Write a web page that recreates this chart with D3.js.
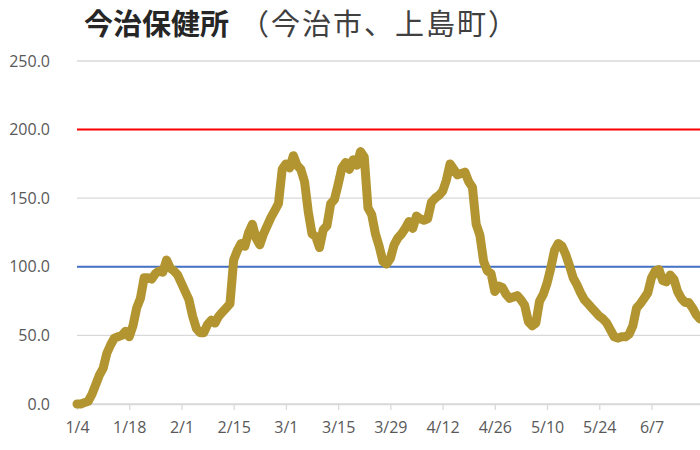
<!DOCTYPE html>
<html>
<head>
<meta charset="utf-8">
<script src="https://cdn.jsdelivr.net/npm/d3@7"></script>
<style>
  body { margin: 0; background: #fff; }
  svg { display: block; }
</style>
</head>
<body>
<svg id="viz"></svg>
<script>
// daily values from 1/4 (2021) onward
const startDate = new Date(2021, 0, 4);
const values = [
  0, 0, 1, 2, 7, 14, 21, 26, 37, 43,
  48, 49, 50, 53, 49, 57, 70, 77, 92, 92,
  91, 95, 97, 96, 105, 99, 97, 94, 88, 82,
  76, 64, 55, 52, 52, 58, 61, 59, 64, 67,
  70, 73, 105, 112, 117, 115, 125, 131, 121, 116,
  124, 130, 136, 141, 146, 171, 175, 172, 181, 174,
  171, 162, 140, 124, 122, 114, 127, 130, 146, 149,
  160, 172, 176, 171, 178, 174, 184, 180, 143, 138,
  124, 115, 104, 102, 106, 116, 121, 124, 128, 133,
  128, 137, 135, 134, 135, 147, 150, 152, 155, 163,
  175, 171, 167, 168, 169, 162, 158, 131, 123, 104,
  97, 95, 82, 86, 85, 80, 77, 78, 79, 76,
  72, 60, 57, 59, 75, 80, 88, 99, 112, 117,
  115, 109, 101, 92, 87, 81, 76, 73, 70, 67,
  64, 62, 59, 54, 49, 48, 49, 49, 51, 57,
  70, 73, 77, 81, 92, 97, 98, 90, 89, 94,
  91, 82, 77, 74, 74, 70, 65, 62
];
const yTicks = [0, 50, 100, 150, 200, 250];
const xTickLabels = ["1/4", "1/18", "2/1", "2/15", "3/1", "3/15", "3/29", "4/12", "4/26", "5/10", "5/24", "6/7"];
const refLines = [
  { value: 200, color: "#ff0000" },
  { value: 100, color: "#4472c4" }
];
const titleBold = "今治保健所";
const titleRest = "（今治市、上島町）";

const W = 700, H = 450;
const margin = { top: 61, right: 0, bottom: 46, left: 77 };

const svg = d3.select("#viz").attr("width", W).attr("height", H);

const dates = values.map((v, i) => d3.timeDay.offset(startDate, i));
const data = values.map((v, i) => ({ date: dates[i], value: v }));

const x = d3.scaleTime()
  .domain([startDate, d3.timeDay.offset(startDate, 167.7)])
  .range([margin.left, W - margin.right]);
const y = d3.scaleLinear().domain([0, 250]).range([H - margin.bottom, margin.top]);

const tickDates = xTickLabels.map((s, i) => d3.timeDay.offset(startDate, i * 14));

// horizontal gridlines
svg.append("g")
  .selectAll("line")
  .data(yTicks)
  .join("line")
  .attr("x1", margin.left)
  .attr("x2", W)
  .attr("y1", d => y(d))
  .attr("y2", d => y(d))
  .attr("stroke", "#d9d9d9")
  .attr("stroke-width", 1.3);

// y axis labels
const yAxis = svg.append("g")
  .attr("transform", `translate(${margin.left - 24},0)`)
  .call(d3.axisLeft(y).tickValues(yTicks).tickFormat(d3.format(".1f")).tickSize(0));
yAxis.select(".domain").remove();
yAxis.selectAll("text")
  .attr("font-family", "'Open Sans', sans-serif")
  .attr("font-size", 16)
  .attr("fill", "#595959");

// x axis
const xAxis = svg.append("g")
  .attr("transform", `translate(0,${y(0)})`)
  .call(d3.axisBottom(x).tickValues(tickDates).tickFormat((d, i) => xTickLabels[i]).tickSize(6).tickSizeOuter(0));
xAxis.select(".domain").attr("stroke", "#d9d9d9").attr("stroke-width", 1.3);
xAxis.selectAll(".tick line").attr("stroke", "#d9d9d9").attr("stroke-width", 1.3);
xAxis.selectAll("text")
  .attr("y", 18)
  .attr("font-family", "'Open Sans', sans-serif")
  .attr("font-size", 16)
  .attr("fill", "#595959");

// reference lines
svg.append("g")
  .selectAll("line")
  .data(refLines)
  .join("line")
  .attr("x1", margin.left)
  .attr("x2", W)
  .attr("y1", d => y(d.value))
  .attr("y2", d => y(d.value))
  .attr("stroke", d => d.color)
  .attr("stroke-width", 2);

// main series
const line = d3.line()
  .x(d => x(d.date))
  .y(d => y(d.value));

svg.append("path")
  .datum(data)
  .attr("d", line)
  .attr("fill", "none")
  .attr("stroke", "#b29531")
  .attr("stroke-width", 9)
  .attr("stroke-linejoin", "round")
  .attr("stroke-linecap", "round");

// title (bold name + city list)
svg.append("text")
  .attr("x", 84)
  .attr("y", 35)
  .attr("font-family", "'Noto Sans CJK JP', sans-serif")
  .attr("font-size", 29)
  .attr("font-weight", "bold")
  .attr("fill", "#262626")
  .text(titleBold);

svg.append("text")
  .attr("x", 240)
  .attr("y", 35)
  .attr("font-family", "'Noto Sans CJK JP', sans-serif")
  .attr("font-size", 29)
  .attr("letter-spacing", 2)
  .attr("fill", "#404040")
  .text(titleRest);
</script>
</body>
</html>
